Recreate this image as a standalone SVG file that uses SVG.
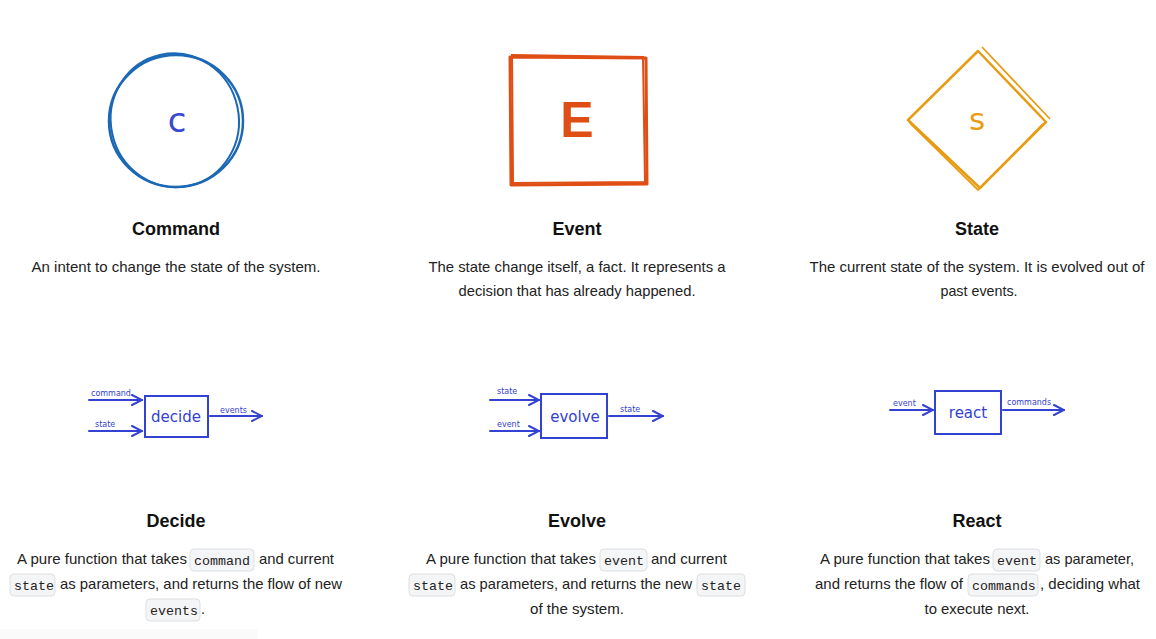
<svg xmlns="http://www.w3.org/2000/svg" width="1156" height="639" viewBox="0 0 1156 639">
<defs>
<style>
.t{font-family:"Liberation Sans",Arial,sans-serif;font-weight:bold;font-size:18px;fill:#111;text-anchor:middle}
.b{font-family:"Liberation Sans",Arial,sans-serif;font-size:14.3px;fill:#222}
.m{text-anchor:middle}
.c{font-family:"Liberation Mono","DejaVu Sans Mono",monospace;font-size:13.3px;fill:#222}
.chip{fill:#f4f5f6;stroke:#dedfe2;stroke-width:1}
.fn{fill:none;stroke:#3342d2;stroke-width:2}
.fl{font-family:"DejaVu Sans",sans-serif;font-size:15px;fill:#3342d2;text-anchor:middle}
.sl{font-family:"DejaVu Sans",sans-serif;font-size:8px;fill:#3342d2}
.ar{fill:none;stroke:#3342d2;stroke-width:2;stroke-linecap:round}
</style>
<marker id="ah" viewBox="0 0 12 12" refX="11" refY="6" markerWidth="12" markerHeight="12" markerUnits="userSpaceOnUse" orient="auto">
<path d="M1,1 L11,6 L1,11" fill="none" stroke="#3342d2" stroke-width="2" stroke-linecap="round"/>
</marker>
</defs>
<rect x="0" y="0" width="1156" height="639" fill="#ffffff"/>
<rect x="0" y="629" width="258" height="10" fill="#fafafa"/>

<g id="command">
<ellipse cx="176" cy="121" rx="67" ry="66" fill="none" stroke="#1b68b5" stroke-width="2.5"/>
<ellipse cx="175" cy="120" rx="64" ry="67" fill="none" stroke="#1b68b5" stroke-width="2" transform="rotate(-12 176 121)"/>
<text x="177" y="132" style="font-family:'DejaVu Sans',sans-serif;font-size:34px;fill:#3a49cf;text-anchor:middle">c</text>
<text class="t" x="176" y="235">Command</text>
<text class="b m" x="176" y="272" textLength="289" lengthAdjust="spacingAndGlyphs">An intent to change the state of the system.</text>
</g>

<g id="event">
<path d="M510,57 L646,58 L647,184 L511,185 Z" fill="none" stroke="#de4e15" stroke-width="3" stroke-linejoin="round"/>
<path d="M512,55 L643,57 L645,182 L513,183 Z" fill="none" stroke="#de4e15" stroke-width="2"/>
<text x="577" y="137" style="font-family:'Liberation Sans',sans-serif;font-weight:bold;font-size:50px;fill:#de4e15;text-anchor:middle">E</text>
<text class="t" x="577" y="235">Event</text>
<text class="b m" x="577" y="272" textLength="297" lengthAdjust="spacingAndGlyphs">The state change itself, a fact. It represents a</text>
<text class="b m" x="577" y="296" textLength="237" lengthAdjust="spacingAndGlyphs">decision that has already happened.</text>
</g>

<g id="state">
<path d="M978,51 L1046,122 L980,188 L908,120 Z" fill="none" stroke="#e89c13" stroke-width="2.5" stroke-linejoin="round"/>
<path d="M982,47 L1050,119 M1043,124 L978,190 L910,123" fill="none" stroke="#e89c13" stroke-width="1.8"/>
<text x="977" y="130" style="font-family:'DejaVu Sans',sans-serif;font-size:31px;fill:#e89c13;text-anchor:middle">s</text>
<text class="t" x="977" y="235">State</text>
<text class="b m" x="977" y="272" textLength="335" lengthAdjust="spacingAndGlyphs">The current state of the system. It is evolved out of</text>
<text class="b m" x="979" y="296">past events.</text>
</g>

<g id="decide">
<rect class="fn" x="145" y="396" width="63" height="41"/>
<text class="fl" x="176" y="422">decide</text>
<text class="sl" x="91" y="396">command</text>
<text class="sl" x="95" y="427">state</text>
<text class="sl" x="220" y="413">events</text>
<text class="t" x="176" y="527">Decide</text>
<text class="b" x="17" y="564" textLength="170" lengthAdjust="spacingAndGlyphs">A pure function that takes</text>
<rect class="chip" x="190" y="549" width="64" height="22" rx="4"/>
<text class="c" x="194" y="565">command</text>
<text class="b" x="259" y="564" textLength="75" lengthAdjust="spacingAndGlyphs">and current</text>
<rect class="chip" x="10" y="574" width="45" height="22" rx="4"/>
<text class="c" x="14" y="590">state</text>
<text class="b" x="60" y="589" textLength="282" lengthAdjust="spacingAndGlyphs">as parameters, and returns the flow of new</text>
<rect class="chip" x="146" y="599" width="54" height="22" rx="4"/>
<text class="c" x="150" y="615">events</text>
<text class="b" x="201" y="614">.</text>
</g>

<g id="evolve">
<rect class="fn" x="541" y="394" width="66" height="44"/>
<text class="fl" x="575" y="422">evolve</text>
<text class="sl" x="497" y="394">state</text>
<text class="sl" x="497" y="427">event</text>
<text class="sl" x="620" y="412">state</text>
<text class="t" x="577" y="527">Evolve</text>
<text class="b" x="426" y="564" textLength="170" lengthAdjust="spacingAndGlyphs">A pure function that takes</text>
<rect class="chip" x="600" y="549" width="47" height="22" rx="4"/>
<text class="c" x="604" y="565">event</text>
<text class="b" x="651" y="564" textLength="76" lengthAdjust="spacingAndGlyphs">and current</text>
<rect class="chip" x="409" y="574" width="46" height="22" rx="4"/>
<text class="c" x="413" y="590">state</text>
<text class="b" x="460" y="589" textLength="232" lengthAdjust="spacingAndGlyphs">as parameters, and returns the new</text>
<rect class="chip" x="697" y="574" width="48" height="22" rx="4"/>
<text class="c" x="701" y="590">state</text>
<text class="b m" x="577" y="614" textLength="94" lengthAdjust="spacingAndGlyphs">of the system.</text>
</g>

<g id="react">
<rect class="fn" x="935" y="391" width="66" height="43"/>
<text class="fl" x="968" y="418">react</text>
<text class="sl" x="893" y="406">event</text>
<text class="sl" x="1007" y="405">commands</text>
<text class="t" x="977" y="527">React</text>
<text class="b" x="820" y="564" textLength="170" lengthAdjust="spacingAndGlyphs">A pure function that takes</text>
<rect class="chip" x="993" y="549" width="47" height="22" rx="4"/>
<text class="c" x="997" y="565">event</text>
<text class="b" x="1045" y="564" textLength="89" lengthAdjust="spacingAndGlyphs">as parameter,</text>
<text class="b" x="815" y="589" textLength="148" lengthAdjust="spacingAndGlyphs">and returns the flow of</text>
<rect class="chip" x="968" y="574" width="70" height="22" rx="4"/>
<text class="c" x="972" y="590">commands</text>
<text class="b" x="1040" y="589" textLength="100" lengthAdjust="spacingAndGlyphs">, deciding what</text>
<text class="b m" x="977" y="614" textLength="105" lengthAdjust="spacingAndGlyphs">to execute next.</text>
</g>

<g id="connectors">
<path class="ar" d="M89,400 L142,400" marker-end="url(#ah)"/>
<path class="ar" d="M89,431 L142,431" marker-end="url(#ah)"/>
<path class="ar" d="M210,416 L262,416" marker-end="url(#ah)"/>
<path class="ar" d="M490,400 L539,400" marker-end="url(#ah)"/>
<path class="ar" d="M490,431 L539,431" marker-end="url(#ah)"/>
<path class="ar" d="M609,416 L663,416" marker-end="url(#ah)"/>
<path class="ar" d="M890,410 L933,410" marker-end="url(#ah)"/>
<path class="ar" d="M1003,410 L1064,410" marker-end="url(#ah)"/>
</g>
</svg>
